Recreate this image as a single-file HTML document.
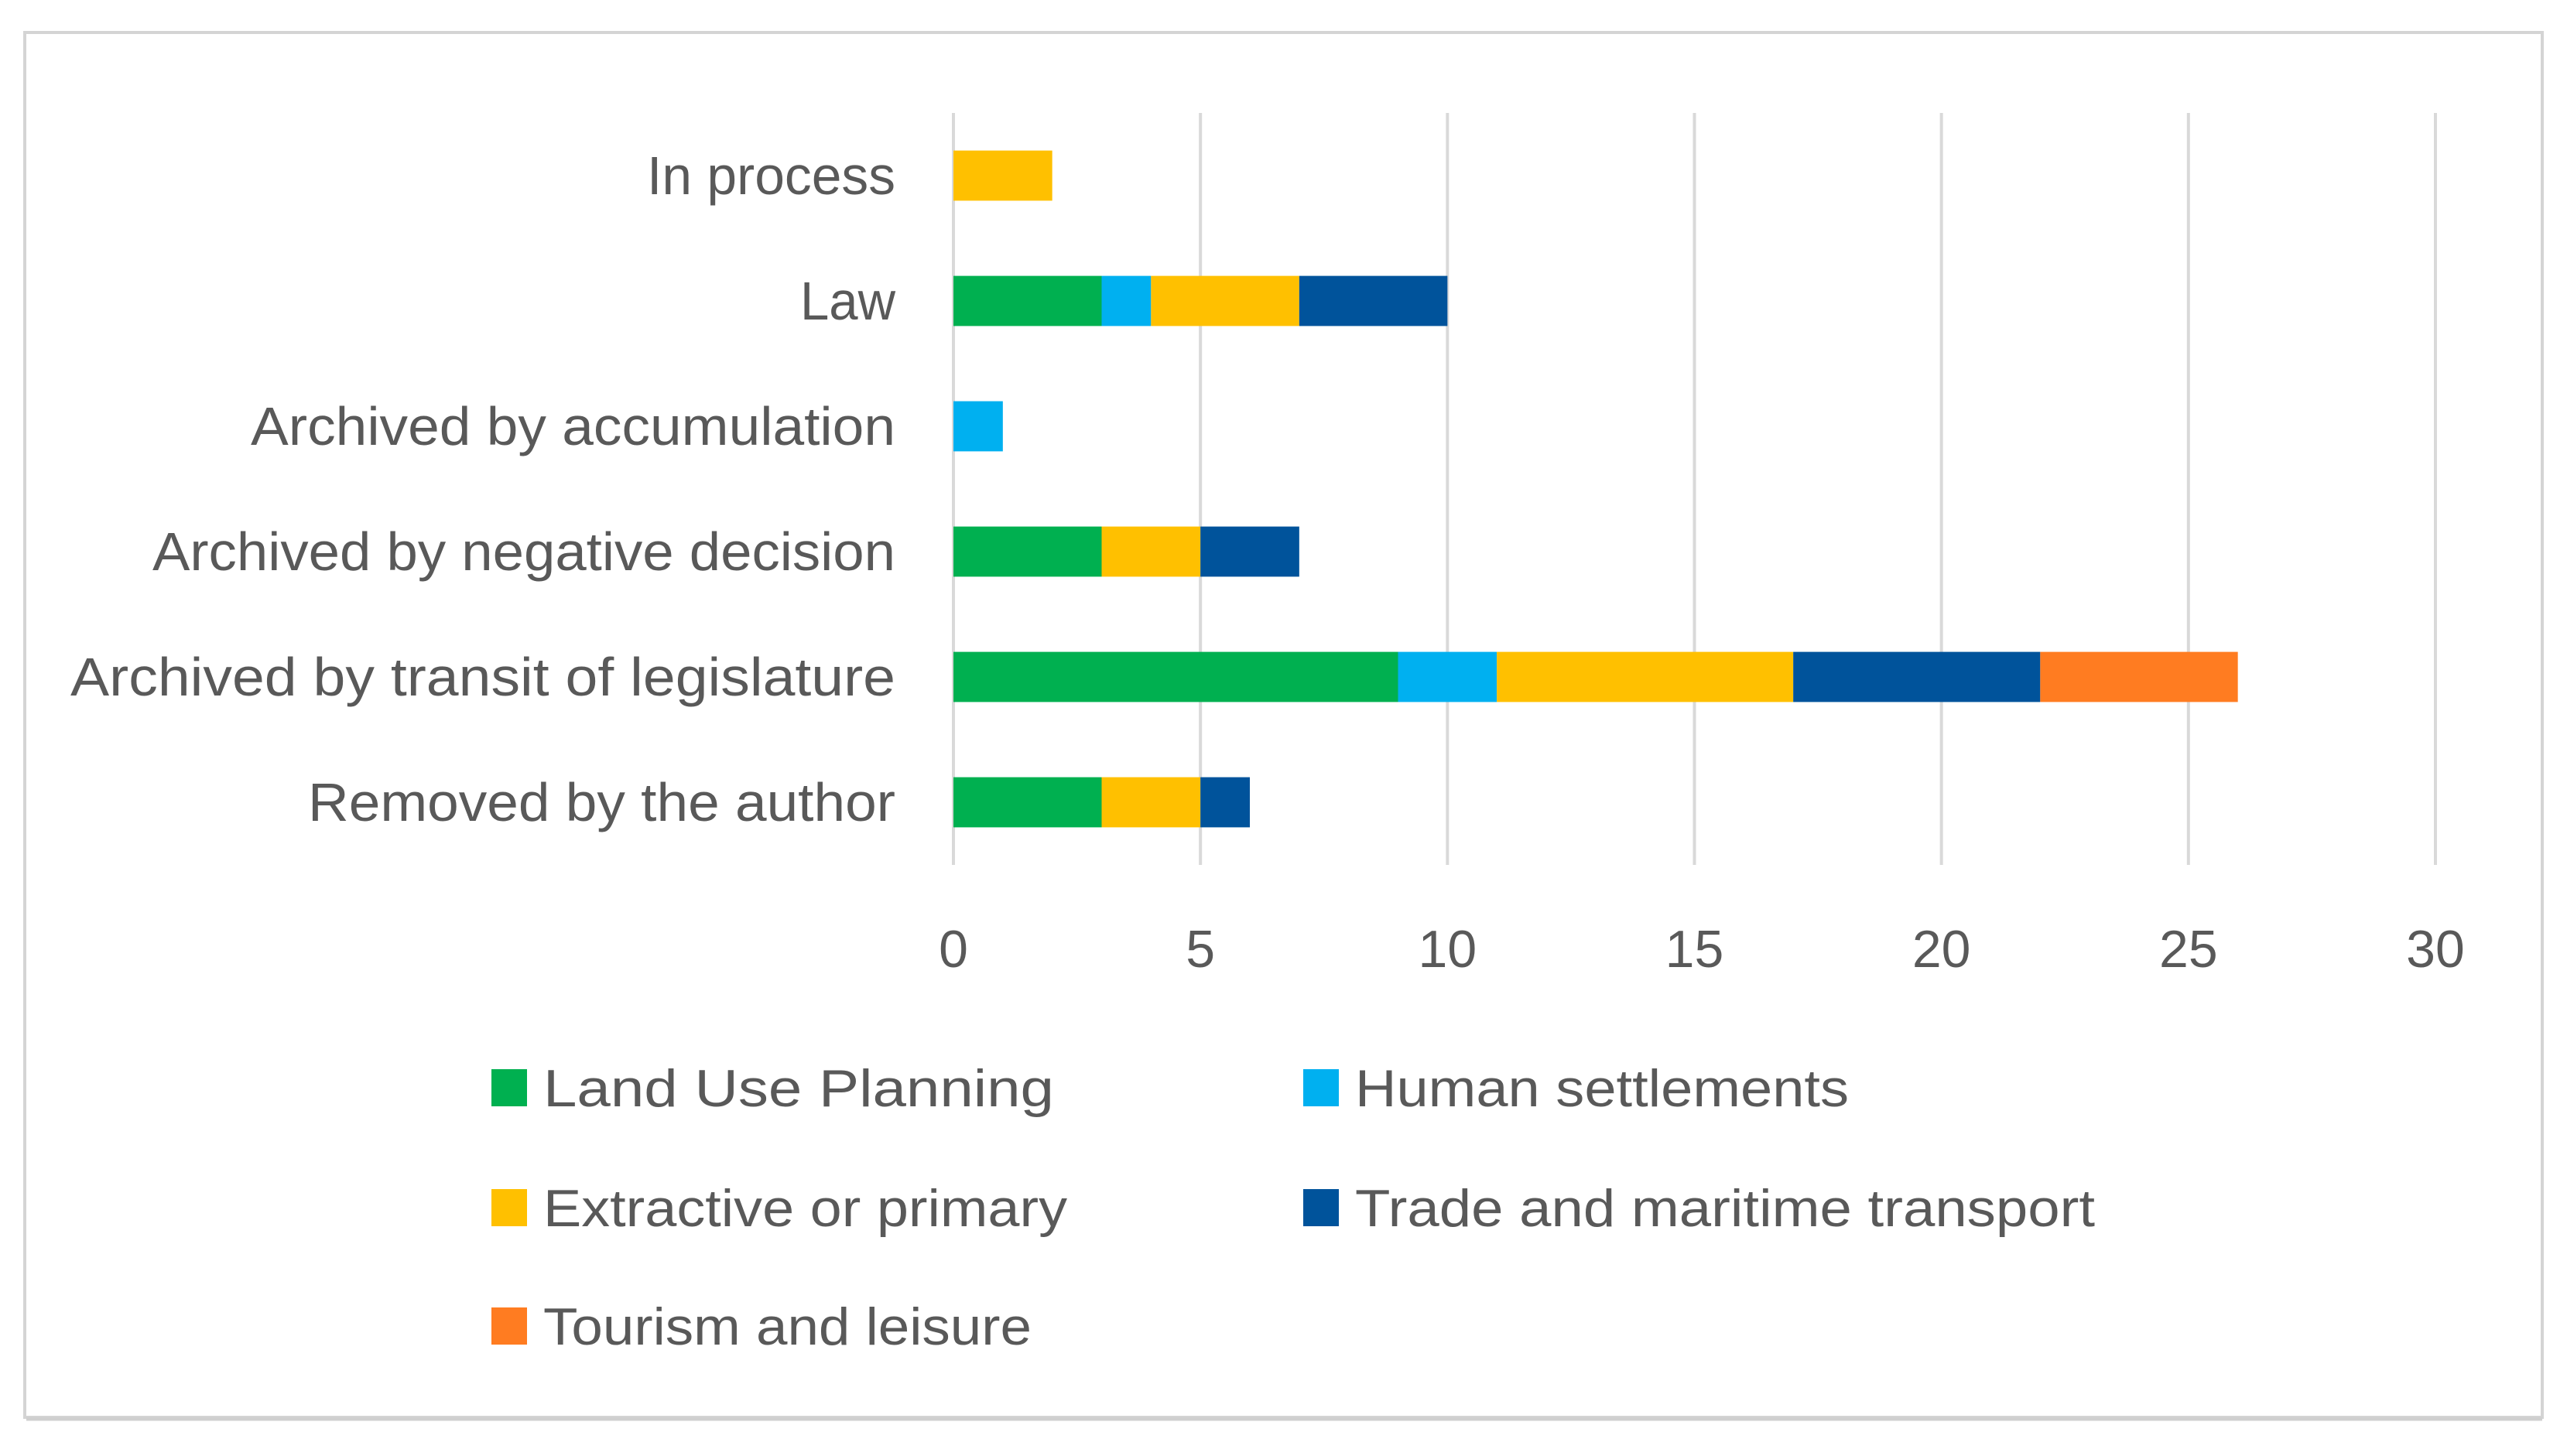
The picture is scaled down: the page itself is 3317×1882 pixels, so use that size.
<!DOCTYPE html>
<html><head><meta charset="utf-8"><style>
html,body{margin:0;padding:0;background:#fff;}
svg{display:block;font-family:"Liberation Sans",sans-serif;}
</style></head><body>
<svg id="chart" width="3317" height="1882" viewBox="0 0 3317 1882">
<rect x="32" y="42" width="3253" height="1790" fill="#fff" stroke="#d4d4d4" stroke-width="4"/>
<line x1="34" y1="1834" x2="3285" y2="1834" stroke="#cfcfcf" stroke-width="5"/>
<g id="grid"></g><g id="bars"></g><g id="ylabels"></g><g id="xlabels"></g><g id="legend"></g>
</svg>
<script>
const categories=["In process","Law","Archived by accumulation","Archived by negative decision","Archived by  transit of legislature","Removed by the author"];
const seriesNames=["Land Use Planning","Human settlements","Extractive or primary","Trade and maritime transport","Tourism and leisure"];
const landUse=[0,3,0,3,9,3];
const humanSettle=[0,1,1,0,2,0];
const extractive=[2,3,0,2,6,2];
const trade=[0,3,0,2,5,1];
const tourism=[0,0,0,0,4,0];
const xTicks=[0,5,10,15,20,25,30];
const series=[landUse,humanSettle,extractive,trade,tourism];
const colors=["#00B050","#00B0F0","#FFC000","#00539B","#FF7C21"];
const labelW=[321,123,833,960,1066,759];
const NS="http://www.w3.org/2000/svg";
const x0=1232,x1=3147,xMax=30,yTop=146,yBot=1118;
const band=(yBot-yTop)/categories.length,barH=band*0.4;
function xs(v){return x0+(x1-x0)*v/xMax;}
function yc(i){return yTop+band*(i+0.5);}
function mk(tag,attrs,parent){const e=document.createElementNS(NS,tag);for(const k in attrs)e.setAttribute(k,attrs[k]);document.getElementById(parent).appendChild(e);return e;}
xTicks.forEach(t=>{
  const l=mk('line',{x1:xs(t),x2:xs(t),y1:yTop,y2:yBot,stroke:'#d9d9d9','stroke-width':4},'grid');
  
  
  const tx=mk('text',{x:xs(t),y:1250,'text-anchor':'middle','font-size':68,fill:'#595959'},'xlabels');
  tx.textContent=t;
  
  
});
categories.forEach((c,i)=>{
  let acc=0;
  series.forEach((s,j)=>{
    const v=s[i];
    if(v>0){
      const r=mk('rect',{x:xs(acc),y:yc(i)-barH/2,width:xs(acc+v)-xs(acc),height:barH,fill:colors[j]},'bars');
      
      
    }
    acc+=v;
  });
  const t=mk('text',{x:1157,y:yc(i)+24,'text-anchor':'end','font-size':70,fill:'#595959',textLength:labelW[i],lengthAdjust:'spacingAndGlyphs'},'ylabels');
  t.textContent=c;
  
  
});
const legPos=[[635,1406,660],[1684,1406,638],[635,1561,677],[1684,1561,956],[635,1714,631]];
seriesNames.forEach((n,j)=>{
  const p=legPos[j];
  const r=mk('rect',{x:p[0],y:p[1]-24,width:46,height:48,fill:colors[j]},'legend');
  
  
  const t=mk('text',{x:p[0]+67,y:p[1]+24,'font-size':68,fill:'#595959',textLength:p[2],lengthAdjust:'spacingAndGlyphs'},'legend');
  t.textContent=n;
  
  
});
</script>
</body></html>
